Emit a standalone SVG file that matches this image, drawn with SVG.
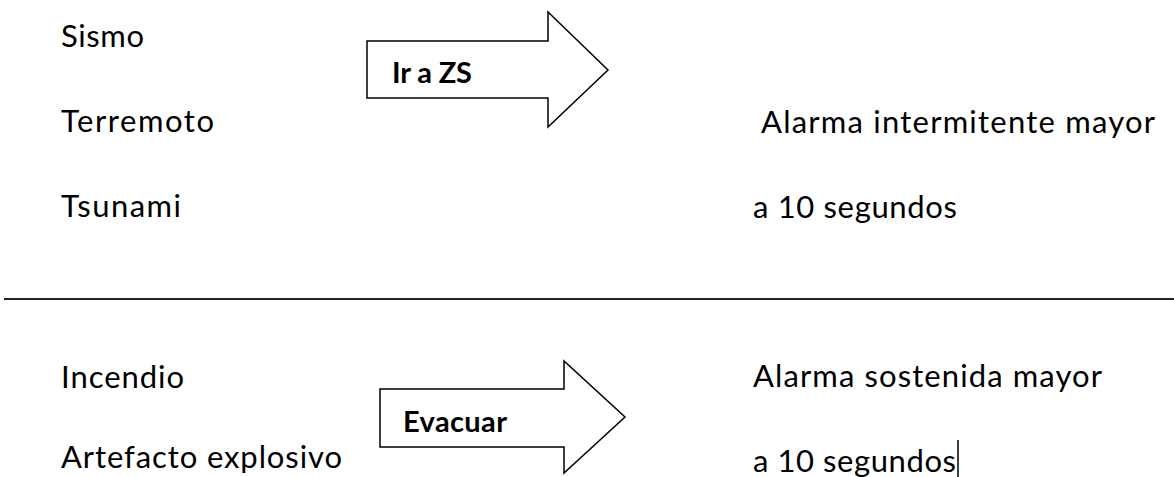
<svg xmlns="http://www.w3.org/2000/svg" width="1174" height="477" viewBox="0 0 1174 477">
<style>
.t{font-family:Lato,"Open Sans","Liberation Sans",sans-serif;font-size:31px;fill:#000}
.b{font-family:Lato,"Open Sans","Liberation Sans",sans-serif;font-size:29px;font-weight:bold;fill:#000}
.arrow{fill:#fff;stroke:#000;stroke-width:1.5;stroke-linejoin:miter}
</style>
<rect width="1174" height="477" fill="#fff"/>
<g id="causes-top">
<text class="t" x="61" y="47" textLength="83" lengthAdjust="spacing">Sismo</text>
<text class="t" x="61" y="132" textLength="153" lengthAdjust="spacing">Terremoto</text>
<text class="t" x="61" y="217" textLength="120" lengthAdjust="spacing">Tsunami</text>
</g>
<g id="arrow-zs">
<path class="arrow" d="M367,41 H548 V12 L608,70 L548,127 V98 H367 Z"/>
<text class="b" x="392" y="83" textLength="80" lengthAdjust="spacing">Ir a ZS</text>
</g>
<g id="alarm-top">
<text class="t" x="761" y="133" textLength="394" lengthAdjust="spacing">Alarma intermitente mayor</text>
<text class="t" x="753" y="218" textLength="204" lengthAdjust="spacing">a 10 segundos</text>
</g>
<g id="divider">
<line x1="4" y1="299" x2="1174" y2="299" stroke="#222" stroke-width="2"/>
</g>
<g id="causes-bottom">
<text class="t" x="61" y="388" textLength="123" lengthAdjust="spacing">Incendio</text>
<text class="t" x="61" y="468" textLength="281" lengthAdjust="spacing">Artefacto explosivo</text>
</g>
<g id="arrow-evacuar">
<path class="arrow" d="M380,389 H564 V361 L625,417 L564,473 V447 H380 Z"/>
<text class="b" x="403" y="432" textLength="104" lengthAdjust="spacing">Evacuar</text>
</g>
<g id="alarm-bottom">
<text class="t" x="753" y="387" textLength="349" lengthAdjust="spacing">Alarma sostenida mayor</text>
<text class="t" x="753" y="472" textLength="203" lengthAdjust="spacing">a 10 segundos</text>
<line x1="958" y1="440" x2="958" y2="477" stroke="#000" stroke-width="1.5"/>
</g>
</svg>
